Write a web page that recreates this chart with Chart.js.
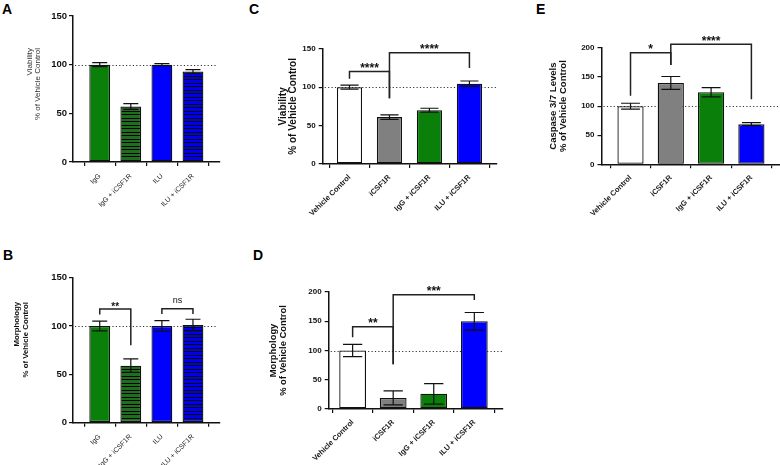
<!DOCTYPE html>
<html><head><meta charset="utf-8">
<script src="https://cdn.jsdelivr.net/npm/chart.js@4.4.1/dist/chart.umd.min.js"></script>
<style>
body{margin:0;width:780px;height:465px;background:#fff;position:relative;overflow:hidden;font-family:"Liberation Sans",Arial,sans-serif}
.p{position:absolute}
.lbl{position:absolute;font:bold 14px/1 "Liberation Sans",Arial,sans-serif;color:#000}
</style></head><body>
<div class="lbl" style="left:2px;top:2px">A</div>
<div class="lbl" style="left:3px;top:248px">B</div>
<div class="lbl" style="left:249px;top:2px">C</div>
<div class="lbl" style="left:253px;top:248px">D</div>
<div class="lbl" style="left:536px;top:2px">E</div>
<div class="p" id="pA" style="left:0;top:0;width:235px;height:230px"></div>
<div class="p" id="pB" style="left:0;top:230px;width:235px;height:235px"></div>
<div class="p" id="pC" style="left:245px;top:0;width:265px;height:230px"></div>
<div class="p" id="pD" style="left:250px;top:230px;width:265px;height:235px"></div>
<div class="p" id="pE" style="left:520px;top:0;width:260px;height:240px"></div>
<script>
// ---- data ----
const catsAB = ['IgG', 'IgG + iCSF1R', 'ILU', 'ILU + iCSF1R'];
const catsCDE = ['Vehicle Control', 'iCSF1R', 'IgG + iCSF1R', 'ILU + iCSF1R'];
const viabilityA = [100, 57, 100, 93];
const viabilityAErr = [2, 3, 1, 2];
const morphologyB = [100, 59, 100, 101];
const morphologyBErr = [5, 7, 5.5, 6];
const viabilityC = [100, 61, 70, 104.5];
const viabilityCErr = [2.5, 3, 2.5, 3.5];
const morphologyD = [100, 19, 26, 150];
const morphologyDErr = [10.5, 12, 17.5, 15];
const caspaseE = [100, 140, 124, 69];
const caspaseEErr = [5, 11, 8, 2.5];
const yTicks150 = [0, 50, 100, 150];
const yTicks200 = [0, 50, 100, 150, 200];
const refValue = 100;
// significance brackets: group a to group b, bar height y, leg ends ya/yb (data units)
const sigA = [];
const sigB = [
  {a: 0, b: 1, y: 117.6, ya: 112, yb: 80, text: '**'},
  {a: 2, b: 3, y: 118, ya: 112.4, yb: 112.4, text: 'ns'}
];
const sigC = [
  {a: 0, b: 1, y: 120.5, ya: 111, yb: 85.4, text: '****'},
  {a: 1, b: 3, y: 144.8, ya: 85.4, yb: 124.8, text: '****'}
];
const sigD = [
  {a: 0, b: 1, y: 140.7, ya: 122.5, yb: 76.4, text: '**'},
  {a: 1, b: 3, y: 195.4, ya: 76.4, yb: 186.3, text: '***'}
];
const sigE = [
  {a: 0, b: 1, y: 192, ya: 118, yb: 170.8, text: '*'},
  {a: 1, b: 3, y: 206.3, ya: 170.8, yb: 111.7, text: '****'}
];

// ---- styling ----
const FONT = '"Liberation Sans", Arial, sans-serif';
const GREEN = '#0a800a', BLUE = '#0000ff', GREY = '#808080', WHITE = '#ffffff';
function hatch(color) {
  const c = document.createElement('canvas');
  c.width = 4; c.height = 7;
  const g = c.getContext('2d');
  g.fillStyle = color; g.fillRect(0, 0, 4, 7);
  g.fillStyle = '#000'; g.fillRect(0, 2, 4, 1); g.fillRect(0, 6, 4, 1);
  return g.createPattern(c, 'repeat');
}
const colorsAB = [GREEN, hatch('#1d6f1d'), BLUE, hatch('#0000ee')];
const colorsCDE = [WHITE, GREY, GREEN, BLUE];

function makeAnnot(o) {
  return {
    id: 'annot',
    beforeDatasetsDraw(chart) {
      const {ctx, chartArea: a, scales: {y}} = chart;
      const yy = Math.round(y.getPixelForValue(refValue)) + 0.5;
      ctx.save();
      ctx.strokeStyle = '#333'; ctx.lineWidth = 1; ctx.setLineDash([1.2, 2.2]);
      ctx.beginPath(); ctx.moveTo(a.left + 2, yy); ctx.lineTo(a.right - o.refInset, yy); ctx.stroke();
      ctx.restore();
    },
    afterDatasetsDraw(chart) {
      const {ctx, scales: {x, y}} = chart;
      const meta = chart.getDatasetMeta(0);
      ctx.save();
      ctx.strokeStyle = '#111'; ctx.lineWidth = 1.2;
      o.values.forEach((v, i) => {
        const e = o.errors[i];
        const px = x.getPixelForValue(i + 1);
        const w = meta.data[i].width * 0.36;
        const yt = y.getPixelForValue(v + e), yb = y.getPixelForValue(v - e);
        ctx.beginPath();
        ctx.moveTo(px, yt); ctx.lineTo(px, yb);
        ctx.moveTo(px - w, yt); ctx.lineTo(px + w, yt);
        ctx.moveTo(px - w, yb); ctx.lineTo(px + w, yb);
        ctx.stroke();
      });
      ctx.lineWidth = 1.5; ctx.strokeStyle = '#222'; ctx.fillStyle = '#111';
      ctx.textAlign = 'center'; ctx.textBaseline = 'alphabetic';
      o.sig.forEach(s => {
        const xa = x.getPixelForValue(s.a + 1), xb = x.getPixelForValue(s.b + 1);
        const yl = y.getPixelForValue(s.y);
        ctx.beginPath();
        ctx.moveTo(xa, y.getPixelForValue(s.ya)); ctx.lineTo(xa, yl);
        ctx.lineTo(xb, yl); ctx.lineTo(xb, y.getPixelForValue(s.yb));
        ctx.stroke();
        if (s.text === 'ns') {
          ctx.font = 'normal 9px ' + FONT;
          ctx.fillText(s.text, (xa + xb) / 2, yl - 5.4);
        } else {
          ctx.font = 'bold ' + o.sigSize + 'px ' + FONT;
          ctx.fillText(s.text, (xa + xb) / 2, yl + 0.5);
        }
      });
      ctx.restore();
    },
    afterDraw(chart) {
      // top-aligned two-line axis title (panels A and B)
      if (!o.topTitle) return;
      const t = o.topTitle;
      const ctx = chart.ctx;
      ctx.save();
      ctx.fillStyle = t.color;
      ctx.font = t.weight + ' ' + t.size + 'px ' + FONT;
      ctx.textAlign = 'right'; ctx.textBaseline = 'middle';
      t.text.forEach((line, i) => {
        ctx.save();
        ctx.translate(t.x + i * t.gap, t.top);
        ctx.rotate(-Math.PI / 2);
        ctx.fillText(line, 0, 0);
        ctx.restore();
      });
      ctx.restore();
    }
  };
}

function panel(id, o) {
  const cv = document.createElement('canvas');
  document.getElementById(id).appendChild(cv);
  return new Chart(cv, {
    type: 'bar',
    data: {
      datasets: [{
        data: o.values.map((v, i) => ({x: i + 1, y: v})),
        backgroundColor: o.colors,
        borderColor: '#111',
        borderWidth: 1.3,
        borderSkipped: false,
        barPercentage: o.barPct,
        categoryPercentage: 1
      }]
    },
    options: {
      responsive: true, maintainAspectRatio: false, animation: false,
      devicePixelRatio: 1,
      layout: {padding: {top: o.padTop, right: o.padRight, left: 0, bottom: 0}},
      plugins: {legend: {display: false}, tooltip: {enabled: false}},
      scales: {
        x: {
          type: 'linear', min: o.xmin, max: o.xmax, offset: false,
          afterBuildTicks: s => { s.ticks = o.cats.map((c, i) => ({value: i + 1})); },
          afterFit: s => { s.height = o.xH; },
          ticks: {
            callback: v => o.cats[v - 1], autoSkip: false, minRotation: 45, maxRotation: 45,
            padding: o.xPad, color: '#222',
            font: {family: FONT, size: o.xFont, weight: o.xWeight}
          },
          grid: {drawOnChartArea: false, drawTicks: true, tickLength: 4, color: '#111', lineWidth: 1.2},
          border: {display: true, color: '#111', width: 1.5}
        },
        y: {
          min: 0, max: o.ymax,
          afterBuildTicks: s => { s.ticks = o.yticks.map(v => ({value: v})); },
          afterFit: s => { s.width = o.yW; },
          ticks: {padding: o.yPad, color: '#111', font: {family: FONT, size: o.yFont, weight: 'bold'}},
          grid: {drawOnChartArea: false, drawTicks: true, tickLength: 4, color: '#111', lineWidth: 1.2},
          border: {display: true, color: '#111', width: 1.5},
          title: o.title ? {
            display: true, text: o.title, color: o.titleColor,
            font: {family: FONT, size: o.titleSize, weight: o.titleWeight, lineHeight: o.titleLH},
            padding: {top: o.titlePad, bottom: 0}
          } : {display: false}
        }
      }
    },
    plugins: [makeAnnot(o)]
  });
}

const baseAB = {cats: catsAB, colors: colorsAB, barPct: 0.67, xmin: 0.14, xmax: 4.87, yW: 73, padRight: 15,
  xFont: 7, xWeight: 'normal', xPad: 6, yFont: 9.5, yPad: 2, sigSize: 10, refInset: 3};
const baseCDE = {cats: catsCDE, colors: colorsCDE, yFont: 8, yPad: 3, xFont: 7.5, xWeight: 'bold', xPad: 5, sigSize: 12, refInset: 0};

panel('pA', Object.assign({}, baseAB, {
  values: viabilityA, errors: viabilityAErr, sig: sigA, ymax: 150, yticks: yTicks150,
  padTop: 16, xH: 68,
  topTitle: {text: ['Viability', '% of Vehicle Control'], size: 8, weight: 'normal', color: '#333', x: 30, gap: 7.6, top: 48}
}));
panel('pB', Object.assign({}, baseAB, {
  values: morphologyB, errors: morphologyBErr, sig: sigB, ymax: 150, yticks: yTicks150,
  padTop: 47.7, xH: 42.3,
  topTitle: {text: ['Morphology', '% of Vehicle Control'], size: 7.8, weight: 'bold', color: '#111', x: 16.5, gap: 9.3, top: 72}
}));
panel('pC', Object.assign({}, baseCDE, {
  values: viabilityC, errors: viabilityCErr, sig: sigC, ymax: 150, yticks: yTicks150,
  barPct: 0.63, xmin: 0.33, xmax: 4.69, yW: 77.7, padTop: 48.7, padRight: 13, xH: 66,
  title: ['Viability', '% of Vehicle Control'], titleSize: 10, titleWeight: 'bold', titleLH: 1.05, titlePad: 32.5, titleColor: '#111'
}));
panel('pD', Object.assign({}, baseCDE, {
  values: morphologyD, errors: morphologyDErr, sig: sigD, ymax: 200, yticks: yTicks200,
  barPct: 0.66, xmin: 0.41, xmax: 4.70, yW: 78.7, padTop: 62, padRight: 12.3, xH: 56,
  title: ['Morphology', '% of Vehicle Control'], titleSize: 9.4, titleWeight: 'bold', titleLH: 1.15, titlePad: 17.6, titleColor: '#111'
}));
panel('pE', Object.assign({}, baseCDE, {
  values: caspaseE, errors: caspaseEErr, sig: sigE, ymax: 200, yticks: yTicks200,
  barPct: 0.65, xmin: 0.28, xmax: 4.71, yW: 81.5, padTop: 48, padRight: 0, xH: 75.7,
  title: ['Caspase 3/7 Levels', '% of Vehicle Control'], titleSize: 9.5, titleWeight: 'bold', titleLH: 1.0, titlePad: 29, titleColor: '#111'
}));
</script>
</body></html>
